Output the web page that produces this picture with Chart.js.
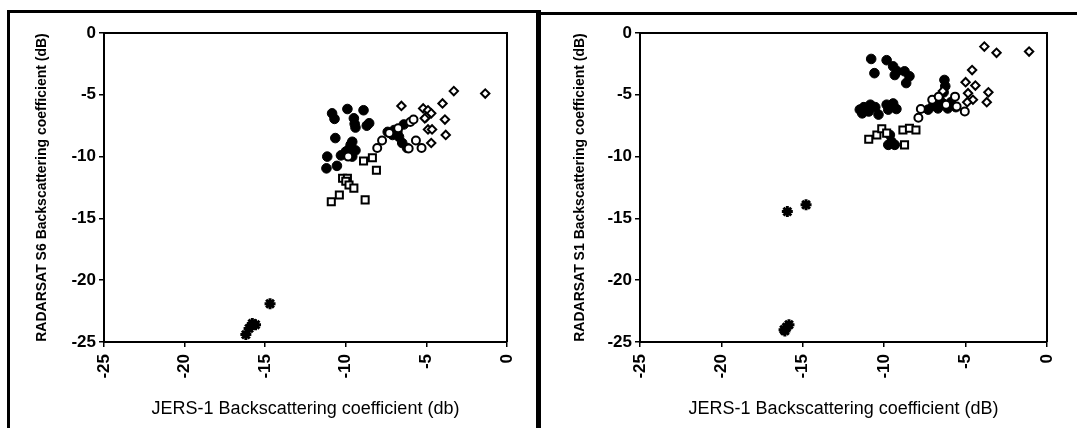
<!DOCTYPE html>
<html>
<head>
<meta charset="utf-8">
<script src="https://cdn.jsdelivr.net/npm/chart.js@4.4.1/dist/chart.umd.min.js"></script>
<style>
  html, body { margin: 0; padding: 0; background: #fff; }
  #page { position: relative; width: 1077px; height: 428px; overflow: hidden; background: #fff; }
  .panel { position: absolute; top: 0; height: 428px; }
  .rule { position: absolute; background: #000; }
</style>
</head>
<body>
<div id="page">
  <div class="panel" style="left:0;width:537px"><canvas id="chartS6" width="537" height="428"></canvas></div>
  <div class="panel" style="left:541px;width:536px"><canvas id="chartS1" width="536" height="428"></canvas></div>
  <!-- panel frames -->
  <div class="rule" style="left:7px;top:10px;width:3px;height:418px"></div>
  <div class="rule" style="left:7px;top:10px;width:532px;height:3px"></div>
  <div class="rule" style="left:536px;top:10px;width:5px;height:418px"></div>
  <div class="rule" style="left:536px;top:12px;width:541px;height:3px"></div>
</div>
<script>
// Shared axis ticks (dB)
const axisTicks = [-25, -20, -15, -10, -5, 0];

// RADARSAT S6 vs JERS-1, [JERS-1, RADARSAT] pairs
const s6Filled = [
  [-10.85,-6.5],[-10.7,-6.95],[-9.9,-6.15],[-8.9,-6.25],[-9.5,-6.9],[-9.45,-7.35],[-9.4,-7.65],
  [-8.7,-7.5],[-8.55,-7.3],[-10.65,-8.5],[-9.6,-8.8],[-9.7,-9.05],[-9.8,-9.4],[-9.4,-9.5],
  [-9.6,-10.0],[-10.3,-9.9],[-11.15,-10.0],[-11.2,-10.95],[-10.55,-10.75],[-10.0,-9.6],
  [-7.4,-8.0],[-7.0,-7.85],[-6.7,-8.4],[-6.4,-7.4],[-6.5,-8.9],[-6.2,-9.3],[-7.1,-8.25],[-6.8,-8.0]
];
const s6OpenCircle = [
  [-9.85,-10.0],[-8.05,-9.3],[-7.75,-8.7],[-6.75,-7.7],[-6.0,-7.2],[-5.8,-7.0],
  [-5.65,-8.7],[-5.3,-9.3],[-6.1,-9.35],[-7.3,-8.1]
];
const s6OpenSquare = [
  [-10.9,-13.65],[-10.4,-13.1],[-10.2,-11.75],[-9.9,-11.75],[-10.0,-12.0],[-9.8,-12.3],
  [-9.5,-12.55],[-8.8,-13.5],[-8.1,-11.1],[-8.9,-10.35],[-8.35,-10.1]
];
const s6Diamond = [
  [-6.55,-5.9],[-5.2,-6.1],[-4.9,-6.25],[-4.7,-6.5],[-5.0,-6.8],[-4.0,-5.7],[-3.3,-4.7],
  [-1.35,-4.9],[-3.85,-7.0],[-3.8,-8.25],[-4.9,-7.8],[-4.65,-7.8],[-4.7,-8.9],[-5.1,-6.9]
];
const s6Star = [
  [-16.2,-24.4],[-16.0,-23.9],[-15.8,-23.5],[-15.6,-23.6],[-14.7,-21.9]
];

// RADARSAT S1 vs JERS-1, [JERS-1, RADARSAT] pairs
const s1Filled = [
  [-10.8,-2.1],[-9.85,-2.2],[-10.6,-3.25],[-9.45,-2.7],[-9.2,-3.1],[-8.75,-3.1],[-8.45,-3.5],
  [-8.65,-4.05],[-9.35,-3.4],[-11.25,-6.0],[-10.95,-6.35],[-11.35,-6.5],[-10.55,-6.0],
  [-10.35,-6.6],[-10.85,-5.8],[-11.5,-6.2],[-9.85,-5.8],[-9.45,-5.7],[-9.25,-6.15],[-9.75,-6.2],
  [-9.65,-8.25],[-9.55,-8.8],[-9.75,-9.05],[-9.35,-9.05],[-6.3,-3.8],[-6.25,-4.3],[-6.35,-4.8],
  [-6.6,-5.4],[-7.0,-5.9],[-6.7,-6.1],[-6.1,-6.1],[-7.3,-6.2],[-5.6,-6.0],[-6.4,-5.7],[-5.9,-5.6]
];
const s1OpenCircle = [
  [-7.75,-6.15],[-7.9,-6.85],[-7.05,-5.4],[-5.65,-5.15],[-5.05,-6.35],[-5.55,-5.95],
  [-6.65,-5.15],[-6.2,-5.8]
];
const s1OpenSquare = [
  [-10.95,-8.6],[-10.45,-8.25],[-10.15,-7.75],[-9.85,-8.1],[-8.85,-7.85],[-8.45,-7.7],
  [-8.05,-7.85],[-8.75,-9.05]
];
const s1Diamond = [
  [-3.85,-1.1],[-3.1,-1.6],[-1.1,-1.5],[-4.6,-3.0],[-5.0,-3.98],[-4.4,-4.25],[-4.85,-4.87],
  [-3.6,-4.8],[-3.7,-5.6],[-4.55,-5.4],[-6.4,-4.7],[-4.9,-5.6]
];
const s1Star = [
  [-16.1,-24.1],[-16.0,-23.8],[-15.85,-23.6],[-16.15,-24.0],[-15.95,-14.45],[-14.8,-13.9]
];

const FONT = "'Liberation Sans', Arial, sans-serif";
const toPts = arr => arr.map(([x, y]) => ({ x, y }));

// outline the top and right edges of the plot box
const boxPlugin = {
  id: 'plotBox',
  afterDraw(chart) {
    const { ctx, chartArea: a } = chart;
    ctx.save();
    ctx.strokeStyle = '#000';
    ctx.lineWidth = 2;
    ctx.beginPath();
    ctx.moveTo(a.left, a.top);
    ctx.lineTo(a.right, a.top);
    ctx.lineTo(a.right, a.bottom);
    ctx.stroke();
    ctx.restore();
  }
};

function seriesSets(filled, openCircle, openSquare, diamond, star) {
  return [
    { label: 'diamond', data: toPts(diamond), pointStyle: 'rectRot', radius: 4.2,
      backgroundColor: '#fff', borderColor: '#000', borderWidth: 2 },
    { label: 'open circle', data: toPts(openCircle), pointStyle: 'circle', radius: 4,
      backgroundColor: '#fff', borderColor: '#000', borderWidth: 2 },
    { label: 'open square', data: toPts(openSquare), pointStyle: 'rect', radius: 5,
      backgroundColor: '#fff', borderColor: '#000', borderWidth: 2 },
    { label: 'filled circle', data: toPts(filled), pointStyle: 'circle', radius: 4.8,
      backgroundColor: '#000', borderColor: '#000', borderWidth: 1 },
    { label: 'star', data: toPts(star), pointStyle: 'star', radius: 5.5,
      backgroundColor: '#000', borderColor: '#000', borderWidth: 3 }
  ];
}

function makeChart(id, datasets, yTitle, xTitle, yAxisWidth, rightPad, yTitlePad) {
  const tickFont = { family: FONT, size: 17, weight: 'bold' };
  return new Chart(document.getElementById(id), {
    type: 'scatter',
    data: { datasets },
    plugins: [boxPlugin],
    options: {
      responsive: false,
      animation: false,
      events: [],
      layout: { padding: { top: 33, right: rightPad, bottom: 0, left: 0 } },
      plugins: { legend: { display: false }, tooltip: { enabled: false } },
      elements: { point: { hoverRadius: 0 } },
      scales: {
        x: {
          type: 'linear', min: -25, max: 0,
          afterBuildTicks: s => { s.ticks = axisTicks.map(v => ({ value: v })); },
          afterFit: s => { s.height = 86; },
          border: { display: true, color: '#000', width: 2 },
          grid: { display: true, drawOnChartArea: false, drawTicks: true, tickLength: 5, color: '#000', lineWidth: 1.5 },
          ticks: { color: '#000', font: tickFont, minRotation: 90, maxRotation: 90, padding: 7 },
          title: { display: true, text: xTitle, color: '#000',
                   font: { family: FONT, size: 18 }, padding: { top: 0, bottom: 8 } }
        },
        y: {
          type: 'linear', min: -25, max: 0,
          afterBuildTicks: s => { s.ticks = axisTicks.map(v => ({ value: v })); },
          afterFit: s => { s.width = yAxisWidth; },
          border: { display: true, color: '#000', width: 2 },
          grid: { display: true, drawOnChartArea: false, drawTicks: true, tickLength: 5, color: '#000', lineWidth: 1.5 },
          ticks: { color: '#000', font: tickFont, padding: 3 },
          title: { display: true, text: yTitle, color: '#000',
                   font: { family: FONT, size: 14, weight: 'bold' }, padding: { top: yTitlePad, bottom: 0 } }
        }
      }
    }
  });
}

makeChart('chartS6', seriesSets(s6Filled, s6OpenCircle, s6OpenSquare, s6Diamond, s6Star),
  'RADARSAT S6 Backscattering coefficient (dB)', 'JERS-1 Backscattering coefficient (db)', 104, 30, 34);
makeChart('chartS1', seriesSets(s1Filled, s1OpenCircle, s1OpenSquare, s1Diamond, s1Star),
  'RADARSAT S1 Backscattering coefficient (dB)', 'JERS-1 Backscattering coefficient (dB)', 99, 30, 31);
</script>
</body>
</html>
